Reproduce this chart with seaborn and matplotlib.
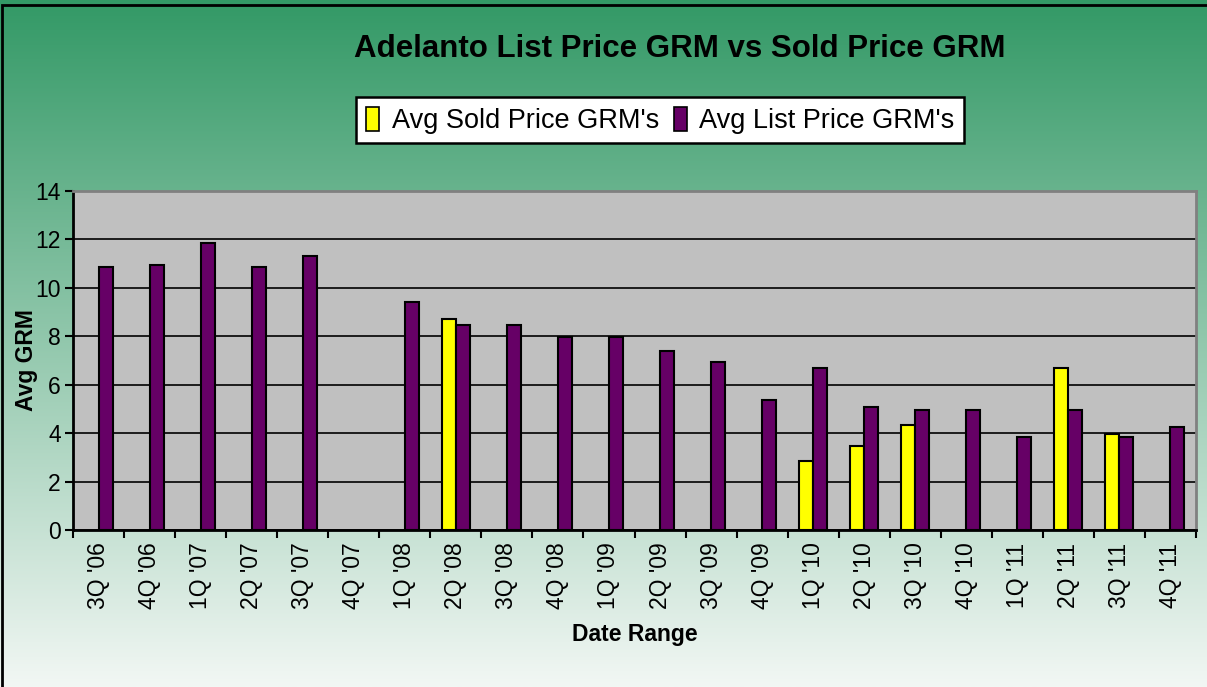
"""Adelanto list price GRM vs sold price GRM, quarterly bar chart."""

import numpy as np
import pandas as pd
import matplotlib

matplotlib.use("Agg")
import matplotlib.pyplot as plt
from matplotlib.patches import Patch, Rectangle
import seaborn as sns

QUARTERS = [
    "3Q '06", "4Q '06", "1Q '07", "2Q '07", "3Q '07", "4Q '07", "1Q '08",
    "2Q '08", "3Q '08", "4Q '08", "1Q '09", "2Q '09", "3Q '09", "4Q '09",
    "1Q '10", "2Q '10", "3Q '10", "4Q '10", "1Q '11", "2Q '11", "3Q '11",
    "4Q '11",
]
nan = np.nan
SOLD_GRM = [nan, nan, nan, nan, nan, nan, nan, 8.7, nan, nan, nan, nan, nan,
            nan, 2.85, 3.45, 4.35, nan, nan, 6.7, 3.95, nan]
LIST_GRM = [10.85, 10.95, 11.85, 10.85, 11.3, nan, 9.4, 8.45, 8.45, 7.95, 7.95,
            7.4, 6.95, 5.35, 6.7, 5.1, 4.95, 4.95, 3.85, 4.95, 3.85, 4.25]
SERIES = ["Avg Sold Price GRM's", "Avg List Price GRM's"]
COLORS = {SERIES[0]: "#FFFF00", SERIES[1]: "#660066"}
FONT = ["Liberation Sans", "DejaVu Sans"]


def main():
    df = pd.DataFrame({"quarter": QUARTERS * 2,
                       "series": [SERIES[0]] * len(QUARTERS) + [SERIES[1]] * len(QUARTERS),
                       "grm": SOLD_GRM + LIST_GRM})

    sns.set_theme(style="white")
    plt.rcParams["font.family"] = FONT
    for key in ["text.color", "axes.labelcolor", "xtick.color", "ytick.color"]:
        plt.rcParams[key] = "black"

    fig = plt.figure(figsize=(12.07, 6.87), dpi=100)

    # green gradient background
    bg = fig.add_axes([0, 0, 1, 1], zorder=-10)
    top = np.array([51, 153, 102]) / 255
    bottom = np.array([242, 247, 244]) / 255
    t = np.linspace(0, 1, 256)[:, None]
    grad = top + (bottom - top) * t
    bg.imshow(grad[:, None, :], aspect="auto", extent=[0, 1, 0, 1])
    bg.set_axis_off()
    fig.patches.append(Rectangle((2 / 1207, -0.01), 1.0, 1 - 5 / 687 + 0.01,
                                 transform=fig.transFigure, fill=False,
                                 edgecolor="black", linewidth=2))

    ax = fig.add_axes([73.3 / 1207, 1 - 530 / 687, (1195.7 - 73.3) / 1207, (530 - 191) / 687])
    ax.set_facecolor("#C0C0C0")
    sns.barplot(data=df, x="quarter", y="grm", hue="series", order=QUARTERS,
                hue_order=SERIES, palette=COLORS, width=0.56, edgecolor="black",
                linewidth=1.5, saturation=1, legend=False, ax=ax, zorder=3)

    ax.set_ylim(0, 14)
    ax.set_xlim(-0.5, len(QUARTERS) - 0.5)
    ax.set_yticks(range(0, 15, 2))
    ax.yaxis.grid(True, color="black", linewidth=1.2, zorder=1)
    ax.set_axisbelow(True)
    ax.tick_params(axis="y", direction="out", length=6, width=1.5, color="black",
                   labelsize=16.5, left=True, pad=3)
    ax.set_xticks(range(len(QUARTERS)))
    ax.set_xticklabels(QUARTERS, rotation=90, fontsize=16.5)
    ax.tick_params(axis="x", which="major", length=0, pad=9)
    ax.set_xticks(np.arange(-0.5, len(QUARTERS), 1), minor=True)
    ax.tick_params(axis="x", which="minor", direction="out", length=6, width=1.5,
                   color="black", bottom=True)
    for side in ["left", "bottom"]:
        ax.spines[side].set_color("black")
        ax.spines[side].set_linewidth(2)
    for side in ["top", "right"]:
        ax.spines[side].set_color("#808080")
        ax.spines[side].set_linewidth(2)

    ax.set_xlabel("Date Range", fontsize=16.5, fontweight="bold", labelpad=10)
    ax.set_ylabel("Avg GRM", fontsize=16.5, fontweight="bold", labelpad=-2)

    fig.text(0.563, 0.928, "Adelanto List Price GRM vs Sold Price GRM",
             ha="center", va="center", fontsize=22.5, fontweight="bold")

    handles = [Patch(facecolor=COLORS[s], edgecolor="black", linewidth=1.2, label=s)
               for s in SERIES]
    leg = fig.legend(handles=handles, loc="center", bbox_to_anchor=(0.547, 0.825),
                     ncol=2, fontsize=19.5, frameon=True, fancybox=False,
                     framealpha=1, handlelength=0.5, handleheight=1.0,
                     handletextpad=0.45, columnspacing=0.55, borderpad=0.35,
                     borderaxespad=0)
    leg.get_frame().set_edgecolor("black")
    leg.get_frame().set_linewidth(1.8)
    leg.get_frame().set_facecolor("white")

    fig.savefig("out.png", dpi=100)


if __name__ == "__main__":
    main()
